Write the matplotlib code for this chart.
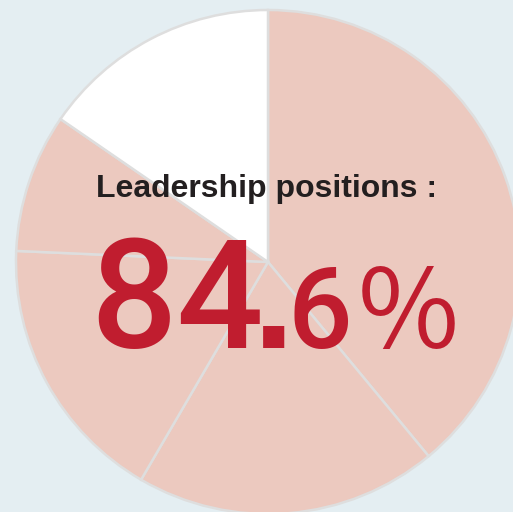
import matplotlib
matplotlib.use('Agg')
import matplotlib.pyplot as plt

# Pie shares (clockwise from 12 o'clock)
labels = ["A", "B", "C", "D", "Other"]
shares = [39.0, 19.4, 17.3, 8.9, 15.4]
colors = ["#ecc9bf", "#ecc9bf", "#ecc9bf", "#ecc9bf", "#ffffff"]

title_text = "Leadership positions :"
value_parts = ["84", ".", "6", "%"]

BG = "#e4eef2"
RED = "#c01d2f"

fig = plt.figure(figsize=(5.13, 5.12), dpi=100)
fig.patch.set_facecolor(BG)
ax = fig.add_axes([0, 0, 1, 1])
ax.set_facecolor(BG)

ax.pie(shares, colors=colors, startangle=90, counterclock=False,
       center=(268, 250), radius=252,
       wedgeprops=dict(edgecolor="#dedede", linewidth=1.8))

ax.set_xlim(0, 513)
ax.set_ylim(0, 512)
ax.set_aspect("equal")
ax.axis("off")

ax.text(267, 315, title_text, ha="center", va="baseline",
        fontsize=23, fontweight="bold", color="#231f20",
        family="Liberation Sans")

# the big number is set piece by piece, like the original artwork
styles = [
    dict(x=90, fontsize=110, fontweight="medium", family="Roboto"),
    dict(x=253, fontsize=108, fontweight="bold", family="Liberation Sans"),
    dict(x=287, fontsize=82, fontweight="medium", family="Roboto"),
    dict(x=358, fontsize=79, fontweight="normal", family="Noto Sans CJK JP"),
]
for part, st in zip(value_parts, styles):
    ax.text(st["x"], 164, part, ha="left", va="baseline", color=RED,
            fontsize=st["fontsize"], fontweight=st["fontweight"],
            family=st["family"])

plt.savefig("out.png", dpi=100, facecolor=BG)
